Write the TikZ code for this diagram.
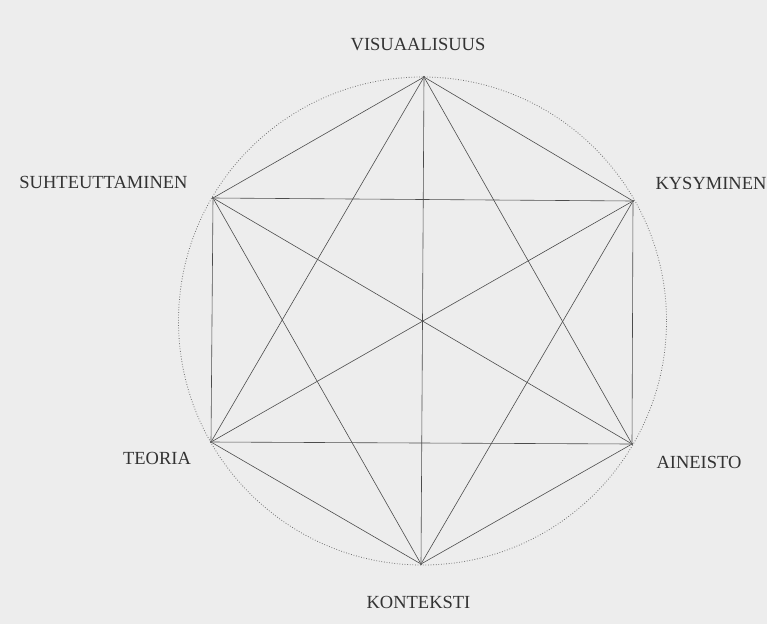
\documentclass[tikz,border=0pt]{standalone}
\usepackage{fontspec}
\setmainfont{Liberation Serif}
\usepackage{tikz}
\begin{document}
\begin{tikzpicture}[x=1pt,y=-1pt,
  edge/.style={draw=black!70, line width=0.6pt},
  ring/.style={draw=black!55, line width=0.8pt, dash pattern=on 0.8pt off 1.8pt},
  lbl/.style={font=\fontsize{18.5}{20}\selectfont, text=black!80, inner sep=0pt},
  vtx/.style={circle, fill=black!80, inner sep=0pt, minimum size=2.2pt}]
\fill[black!7] (0,0) rectangle (767,624);
\useasboundingbox (0,0) rectangle (767,624);
\coordinate (c) at (422.5,321);
\node[vtx] (v) at (424,77) {};
\node[vtx] (k) at (633,201) {};
\node[vtx] (a) at (632,444) {};
\node[vtx] (ko) at (421,564) {};
\node[vtx] (t) at (211,442) {};
\node[vtx] (s) at (213,198) {};
\draw[ring] (c) circle (244);
\foreach \p/\q in {v/k,v/a,v/ko,v/t,v/s,k/a,k/ko,k/t,k/s,a/ko,a/t,a/s,ko/t,ko/s,t/s}
  \draw[edge] (\p) -- (\q);
\node[lbl] (lv) at (418,45) {VISUAALISUUS};
\node[lbl] (ls) at (103.5,182) {SUHTEUTTAMINEN};
\node[lbl] (lk) at (711,183) {KYSYMINEN};
\node[lbl] (lt) at (157,458) {TEORIA};
\node[lbl] (la) at (699,462) {AINEISTO};
\node[lbl] (lko) at (418.5,602) {KONTEKSTI};
\end{tikzpicture}
\end{document}
